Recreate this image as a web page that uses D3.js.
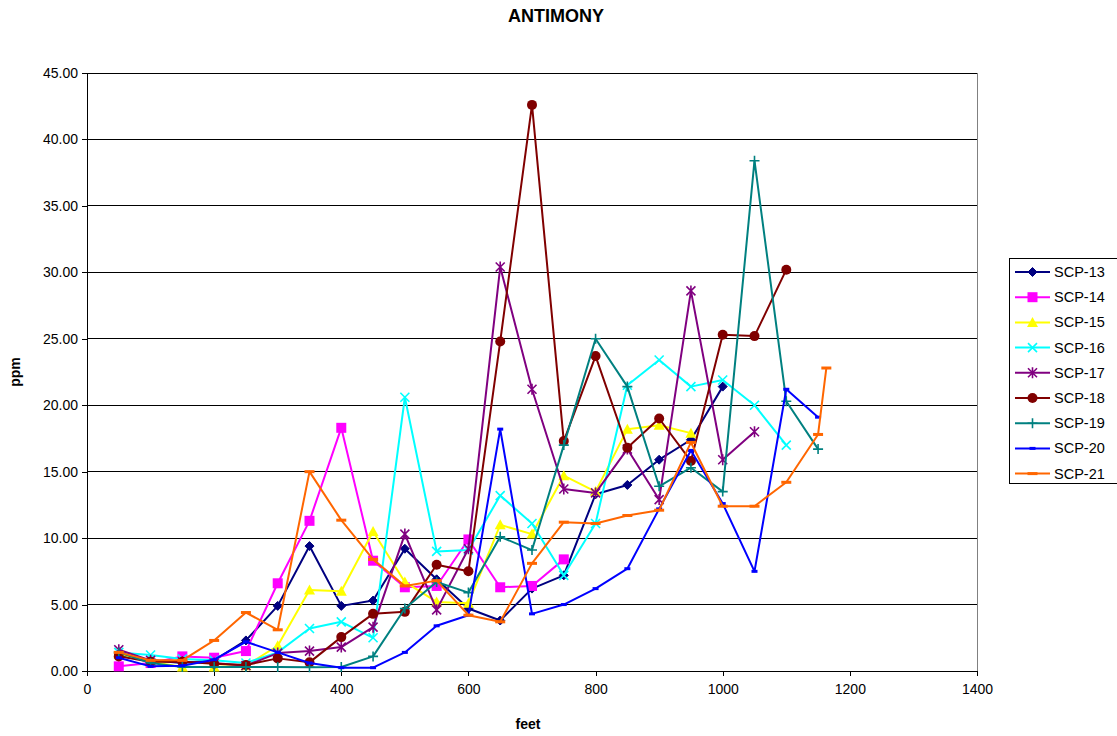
<!DOCTYPE html>
<html>
<head>
<meta charset="utf-8">
<script src="https://cdn.jsdelivr.net/npm/d3@7"></script>
<style>
  html, body { margin: 0; padding: 0; background: #fff; }
  svg { display: block; font-family: "Liberation Sans", Arial, sans-serif; }
</style>
</head>
<body>
<svg id="chart" width="1117" height="736"></svg>
<script>
// Antimony concentration (ppm) by depth (feet) for each borehole
const feetStd = [50,100,150,200,250,300,350,400,450,500,550,600,650,700,750,800,850,900,950,1000,1050,1100,1150];

const scp13 = [1.2,0.8,0.6,0.8,2.3,4.9,9.4,4.9,5.3,9.2,6.9,4.7,3.8,6.2,7.2,13.3,14.0,15.9,17.4,21.4];
const scp14 = [0.35,0.6,1.1,1.0,1.5,6.6,11.3,18.3,8.3,6.3,6.4,9.9,6.3,6.4,8.4];
const scp15 = [1.3,0.7,0.3,0.3,0.4,1.9,6.1,6.0,10.5,6.7,5.2,5.1,11.0,10.3,14.7,13.5,18.2,18.5,17.9];
const scp16 = [1.4,1.2,0.9,0.8,0.6,1.4,3.2,3.7,2.5,20.6,9.0,9.1,13.2,11.1,7.2,11.1,21.5,23.4,21.4,21.9,20.0,17.0];
const scp17 = [1.6,0.8,0.7,0.6,0.4,1.35,1.5,1.8,3.3,10.3,4.6,9.2,30.4,21.2,13.7,13.4,16.7,12.9,28.6,15.9,18.0];
const scp18 = [1.1,0.7,0.7,0.55,0.45,0.95,0.65,2.55,4.3,4.45,8.0,7.5,24.8,42.6,17.3,23.7,16.8,19.0,15.8,25.3,25.2,30.2];
const scp19 = [1.4,0.6,0.3,0.3,0.3,0.3,0.28,0.3,1.1,4.7,6.7,5.9,10.1,9.1,17.0,25.0,21.4,13.9,15.3,13.5,38.4,20.3,16.7];
const scp20 = [1.0,0.35,0.4,0.85,2.2,1.4,0.6,0.25,0.25,1.4,3.4,4.2,18.2,4.3,5.0,6.2,7.7,12.2,16.6,12.6,7.5,21.2,19.1];
const scp21Feet = [50,100,150,200,250,300,350,400,450,500,550,600,650,700,750,800,850,900,950,1000,1050,1100,1150,1163];
const scp21 = [1.4,0.8,0.8,2.3,4.4,3.1,15.0,11.35,8.4,6.4,6.8,4.2,3.7,8.1,11.2,11.1,11.7,12.1,17.2,12.4,12.4,14.2,17.8,22.8];

const seriesNames = ["SCP-13","SCP-14","SCP-15","SCP-16","SCP-17","SCP-18","SCP-19","SCP-20","SCP-21"];
const seriesColors = ["#000080","#FF00FF","#FFFF00","#00FFFF","#800080","#800000","#008080","#0000FF","#FF6600"];
const seriesMarkers = ["diamond","square","triangle","x","star","circle","plus","dash","longdash"];

const xTicks = [0,200,400,600,800,1000,1200,1400];
const yTicks = [0,5,10,15,20,25,30,35,40,45];

const series = [
  {feet: feetStd, vals: scp13},
  {feet: feetStd, vals: scp14},
  {feet: feetStd, vals: scp15},
  {feet: feetStd, vals: scp16},
  {feet: feetStd, vals: scp17},
  {feet: feetStd, vals: scp18},
  {feet: feetStd, vals: scp19},
  {feet: feetStd, vals: scp20},
  {feet: scp21Feet, vals: scp21}
].map((s, i) => ({
  name: seriesNames[i], color: seriesColors[i], marker: seriesMarkers[i],
  points: s.vals.map((v, j) => ({x: s.feet[j], y: v}))
}));

const svg = d3.select("#chart");
const plot = {left: 87, top: 73, right: 977, bottom: 671};

const x = d3.scaleLinear().domain([0, 1400]).range([plot.left, plot.right]);
const y = d3.scaleLinear().domain([0, 45]).range([plot.bottom, plot.top]);

// horizontal gridlines
svg.append("g").selectAll("line").data(yTicks.filter(t => t > 0)).join("line")
  .attr("x1", plot.left).attr("x2", plot.right)
  .attr("y1", d => y(d)).attr("y2", d => y(d))
  .attr("stroke", "#000").attr("stroke-width", 1).attr("shape-rendering", "crispEdges");

// plot area right edge
svg.append("line")
  .attr("x1", plot.right).attr("x2", plot.right)
  .attr("y1", plot.top).attr("y2", plot.bottom)
  .attr("stroke", "#808080").attr("stroke-width", 1).attr("shape-rendering", "crispEdges");

// axes
const fmt = d3.format(".2f");
const yAxis = d3.axisLeft(y).tickValues(yTicks).tickFormat(fmt).tickSizeOuter(0).tickSize(5).tickPadding(4);
const xAxis = d3.axisBottom(x).tickValues(xTicks).tickFormat(d3.format("d")).tickSizeOuter(0).tickSize(5).tickPadding(8);

const gy = svg.append("g").attr("transform", `translate(${plot.left},0)`).call(yAxis);
const gx = svg.append("g").attr("transform", `translate(0,${plot.bottom})`).call(xAxis);
[gx, gy].forEach(g => {
  g.selectAll("path,line").attr("stroke", "#000").attr("shape-rendering", "crispEdges");
  g.selectAll("text").attr("font-size", 14).attr("fill", "#000")
    .attr("font-family", "'Liberation Sans', Arial, sans-serif");
});

// marker shapes
function drawMarker(g, type, color) {
  switch (type) {
    case "diamond":
      g.append("path").attr("d", "M0,-4.5L4.5,0L0,4.5L-4.5,0Z").attr("fill", color).attr("stroke", color);
      break;
    case "square":
      g.append("rect").attr("x", -5).attr("y", -5).attr("width", 10).attr("height", 10).attr("fill", color);
      break;
    case "triangle":
      g.append("path").attr("d", "M0,-5.5L5.5,4.5L-5.5,4.5Z").attr("fill", color);
      break;
    case "x":
      g.append("path").attr("d", "M-4.5,-4.5L4.5,4.5M-4.5,4.5L4.5,-4.5").attr("stroke", color).attr("stroke-width", 1.6);
      break;
    case "star":
      g.append("path").attr("d", "M-4.5,-4.5L4.5,4.5M-4.5,4.5L4.5,-4.5M0,-5.5L0,5.5").attr("stroke", color).attr("stroke-width", 1.6);
      break;
    case "circle":
      g.append("circle").attr("r", 5).attr("fill", color);
      break;
    case "plus":
      g.append("path").attr("d", "M-5,0L5,0M0,-5L0,5").attr("stroke", color).attr("stroke-width", 1.6);
      break;
    case "dash":
      g.append("rect").attr("x", -3).attr("y", -1.5).attr("width", 6).attr("height", 3).attr("fill", color);
      break;
    case "longdash":
      g.append("rect").attr("x", -5).attr("y", -1.5).attr("width", 10).attr("height", 3).attr("fill", color);
      break;
  }
}

const line = d3.line().x(d => x(d.x)).y(d => y(d.y));

const gSeries = svg.append("g");
series.forEach(s => {
  const g = gSeries.append("g");
  g.append("path").datum(s.points).attr("d", line)
    .attr("fill", "none").attr("stroke", s.color).attr("stroke-width", 2).attr("stroke-linejoin", "round");
  g.selectAll("g.m").data(s.points).join("g").attr("class", "m")
    .attr("transform", d => `translate(${x(d.x)},${y(d.y)})`)
    .each(function() { drawMarker(d3.select(this), s.marker, s.color); });
});

// titles
svg.append("text").attr("x", 556).attr("y", 22).attr("text-anchor", "middle")
  .attr("font-size", 18).attr("font-weight", "bold").text("ANTIMONY");
svg.append("text").attr("x", 528).attr("y", 729).attr("text-anchor", "middle")
  .attr("font-size", 14).attr("font-weight", "bold").text("feet");
svg.append("text").attr("transform", "translate(20,372) rotate(-90)").attr("text-anchor", "middle")
  .attr("font-size", 14).attr("font-weight", "bold").text("ppm");

// legend
const leg = svg.append("g");
leg.append("rect").attr("x", 1009.5).attr("y", 258.5).attr("width", 112).attr("height", 225)
  .attr("fill", "#fff").attr("stroke", "#000").attr("stroke-width", 1);
series.forEach((s, i) => {
  const cy = 272 + i * 25.2;
  const g = leg.append("g");
  g.append("line").attr("x1", 1015).attr("x2", 1050).attr("y1", cy).attr("y2", cy)
    .attr("stroke", s.color).attr("stroke-width", 2);
  const m = g.append("g").attr("transform", `translate(1032.5,${cy})`);
  drawMarker(m, s.marker, s.color);
  g.append("text").attr("x", 1054).attr("y", cy + 5).attr("font-size", 14.5).text(s.name);
});
</script>
</body>
</html>
